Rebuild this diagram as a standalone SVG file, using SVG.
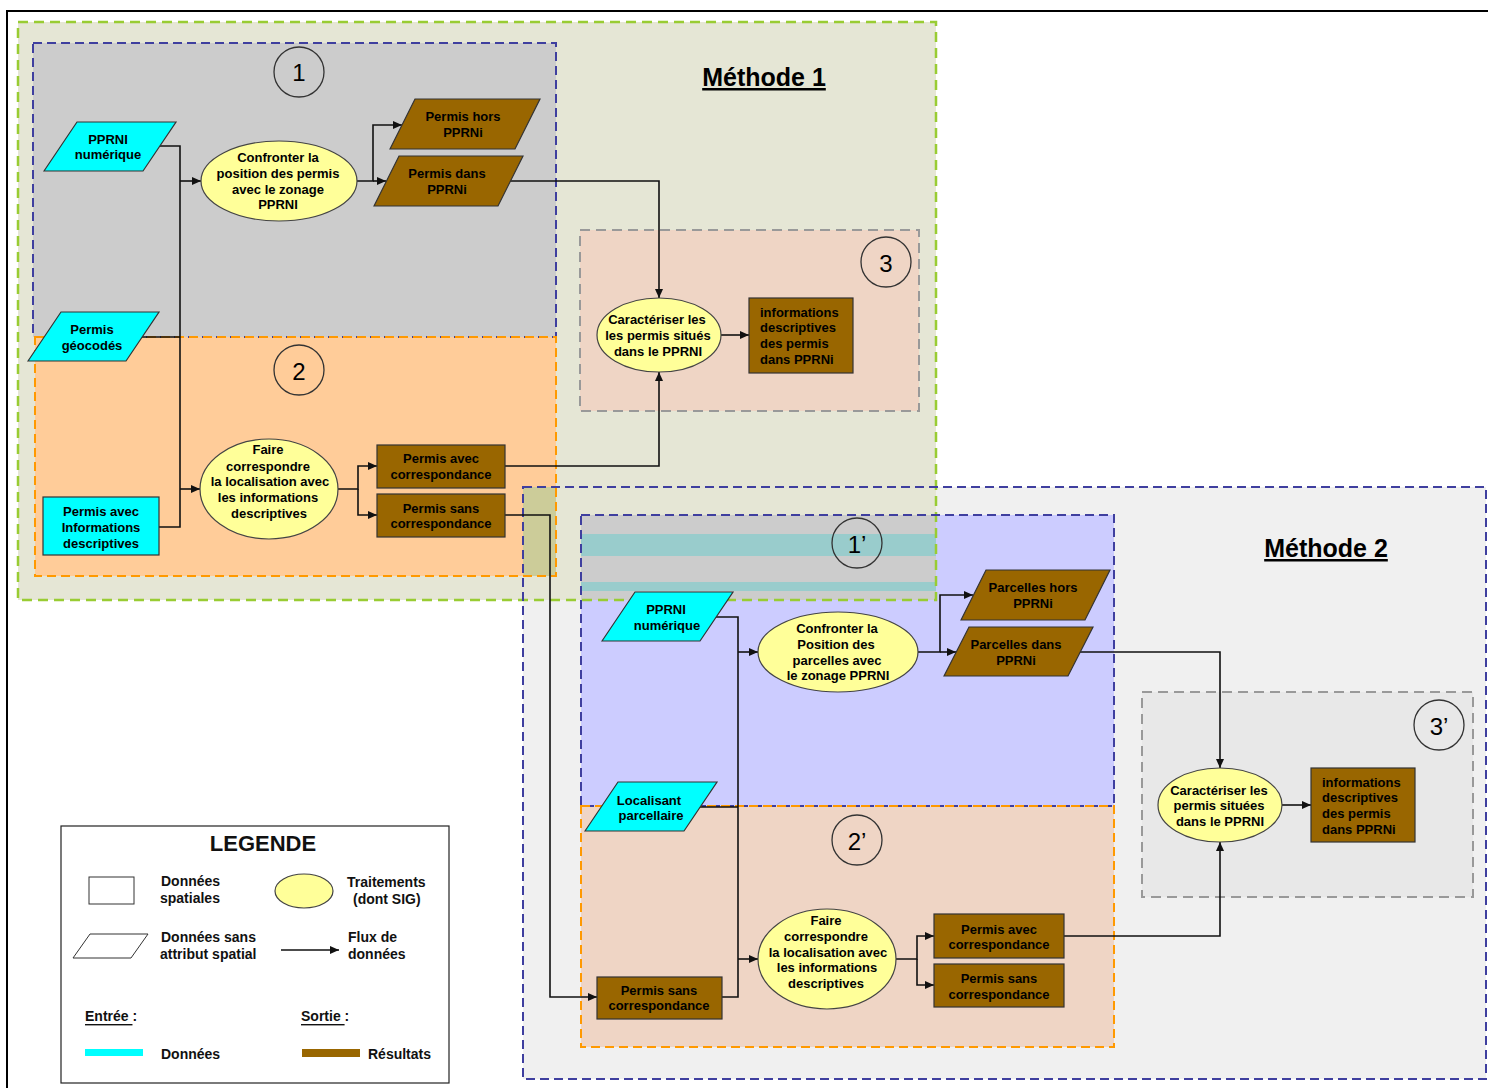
<svg xmlns="http://www.w3.org/2000/svg" width="1488" height="1088" viewBox="0 0 1488 1088">
<style>
.t{font-family:"Liberation Sans",Arial,sans-serif;font-weight:bold;font-size:13px;fill:#000;text-anchor:middle;dominant-baseline:central}
.tl{text-anchor:start}
.lg{font-family:"Liberation Sans",Arial,sans-serif;font-weight:bold;font-size:14px;fill:#111;dominant-baseline:central}
.num{font-family:"Liberation Sans",Arial,sans-serif;font-size:24px;fill:#000;text-anchor:middle;dominant-baseline:central}
.title{font-family:"Liberation Sans",Arial,sans-serif;font-weight:bold;font-size:25px;fill:#000;text-anchor:middle;text-decoration:underline}
.cyan{fill:#00ffff;stroke:#333;stroke-width:1.2}
.brown{fill:#996600;stroke:#333;stroke-width:1.2}
.proc{fill:#ffff99;stroke:#444;stroke-width:1.2}
.circ{fill:none;stroke:#333;stroke-width:1.3}
.m1{fill:none;stroke:#99cc33;stroke-width:2.5;stroke-dasharray:10 6}
.bl{fill:none;stroke:#3f3f9f;stroke-width:2;stroke-dasharray:9 5}
.or{fill:none;stroke:#ff9900;stroke-width:2;stroke-dasharray:9 5}
.gr{fill:none;stroke:#999;stroke-width:2;stroke-dasharray:10 6}
.c{fill:none;stroke:#111;stroke-width:1.6}
</style>
<defs>
<marker id="ah" markerUnits="userSpaceOnUse" markerWidth="9" markerHeight="8" refX="9" refY="4" orient="auto">
<path d="M0,0 L9,4 L0,8 z" fill="#111"/>
</marker>
</defs>
<rect width="1488" height="1088" fill="#fff"/>
<g id="frame">
<path d="M7,1088 V11 H1488" fill="none" stroke="#000" stroke-width="2"/>
</g>
<g id="areas">
<rect x="523" y="487" width="963" height="592" fill="#f0f0f0"/>
<rect x="18" y="22" width="918" height="578" fill="#e5e6d5"/>
<rect x="33" y="43" width="523" height="294" fill="#cccccc"/>
<rect x="35" y="337" width="521" height="239" fill="#ffcc99"/>
<rect x="580" y="230" width="339" height="181" fill="#efd5c5"/>
<rect x="523" y="487" width="33" height="89" fill="#cccc99"/>
<rect x="581" y="515" width="533" height="291" fill="#ccccff"/>
<rect x="581" y="515" width="355" height="85" fill="#cccccc"/>
<rect x="581" y="534" width="355" height="22" fill="#99cccc"/>
<rect x="581" y="582" width="355" height="9" fill="#99cccc"/>
<rect x="581" y="806" width="533" height="241" fill="#efd5c5"/>
<rect x="1142" y="692" width="331" height="205" fill="#e8e8e8"/>
<rect x="18" y="22" width="918" height="578" class="m1"/>
<rect x="33" y="43" width="523" height="294" class="bl"/>
<rect x="35" y="337" width="521" height="239" class="or"/>
<rect x="580" y="230" width="339" height="181" class="gr"/>
<rect x="523" y="487" width="963" height="592" class="bl"/>
<rect x="581" y="515" width="533" height="291" class="bl"/>
<rect x="581" y="806" width="533" height="241" class="or"/>
<rect x="1142" y="692" width="331" height="205" class="gr"/>
<text class="title" x="764" y="86">Méthode 1</text>
<text class="title" x="1326" y="557">Méthode 2</text>
</g>
<g id="steps">
<circle class="circ" cx="299" cy="72" r="25"/><text class="num" x="299" y="72">1</text>
<circle class="circ" cx="299" cy="370" r="25"/><text class="num" x="299" y="371">2</text>
<circle class="circ" cx="886" cy="262" r="25"/><text class="num" x="886" y="263">3</text>
<circle class="circ" cx="857" cy="543" r="25"/><text class="num" x="857" y="544">1’</text>
<circle class="circ" cx="857" cy="840" r="25"/><text class="num" x="857" y="841">2’</text>
<circle class="circ" cx="1439" cy="725" r="25"/><text class="num" x="1439" y="726">3’</text>
</g>
<g id="connectors">
<path class="c" d="M150,146 H180 V527 H155"/>
<path class="c" d="M135,337 H180"/>
<path class="c" d="M180,181 H201" marker-end="url(#ah)"/>
<path class="c" d="M180,489 H200" marker-end="url(#ah)"/>
<path class="c" d="M357,181 H373 V125 H402" marker-end="url(#ah)"/>
<path class="c" d="M373,181 H386" marker-end="url(#ah)"/>
<path class="c" d="M505,181 H659 V298" marker-end="url(#ah)"/>
<path class="c" d="M338,489 H358 V466 H377" marker-end="url(#ah)"/>
<path class="c" d="M358,489 V515 H377" marker-end="url(#ah)"/>
<path class="c" d="M505,466 H659 V372" marker-end="url(#ah)"/>
<path class="c" d="M721,335 H749" marker-end="url(#ah)"/>
<path class="c" d="M505,515 H550 V997 H597" marker-end="url(#ah)"/>
<path class="c" d="M710,617 H738 V997 H722"/>
<path class="c" d="M695,807 H738"/>
<path class="c" d="M738,652 H758" marker-end="url(#ah)"/>
<path class="c" d="M738,959 H758" marker-end="url(#ah)"/>
<path class="c" d="M918,652 H940 V595 H973" marker-end="url(#ah)"/>
<path class="c" d="M940,652 H956" marker-end="url(#ah)"/>
<path class="c" d="M1075,652 H1220 V768" marker-end="url(#ah)"/>
<path class="c" d="M896,959 H917 V936 H934" marker-end="url(#ah)"/>
<path class="c" d="M917,959 V985 H934" marker-end="url(#ah)"/>
<path class="c" d="M1064,936 H1220 V842" marker-end="url(#ah)"/>
<path class="c" d="M1282,805 H1311" marker-end="url(#ah)"/>
</g>
<g id="n_pprni1"><polygon class="cyan" points="44,171 77,122 176,122 143,171"/><text class="t" x="108" y="139">PPRNI</text><text class="t" x="108" y="154">numérique</text></g>
<g id="n_geocodes"><polygon class="cyan" points="28,361 61,312 159,312 126,361"/><text class="t" x="92" y="329">Permis</text><text class="t" x="92" y="345">géocodés</text></g>
<g id="n_infos1"><rect class="cyan" x="43" y="497" width="116" height="58"/><text class="t" x="101" y="511">Permis avec</text><text class="t" x="101" y="527">Informations</text><text class="t" x="101" y="543">descriptives</text></g>
<g id="p_confronter1"><ellipse class="proc" cx="279" cy="181" rx="78" ry="40"/><text class="t" x="278" y="157">Confronter la</text><text class="t" x="278" y="173">position des permis</text><text class="t" x="278" y="189">avec le zonage</text><text class="t" x="278" y="204">PPRNI</text></g>
<g id="r_hors1"><polygon class="brown" points="390,149 415,99 540,99 515,149"/><text class="t" x="463" y="116">Permis hors</text><text class="t" x="463" y="132">PPRNi</text></g>
<g id="r_dans1"><polygon class="brown" points="374,206 399,156 523,156 498,206"/><text class="t" x="447" y="173">Permis dans</text><text class="t" x="447" y="189">PPRNi</text></g>
<g id="p_faire1"><ellipse class="proc" cx="269" cy="489" rx="69" ry="50"/><text class="t" x="268" y="449">Faire</text><text class="t" x="268" y="466">correspondre</text><text class="t" x="270" y="481">la localisation avec</text><text class="t" x="268" y="497">les informations</text><text class="t" x="269" y="513">descriptives</text></g>
<g id="r_avec1"><rect class="brown" x="377" y="445" width="128" height="43"/><text class="t" x="441" y="458">Permis avec</text><text class="t" x="441" y="474">correspondance</text></g>
<g id="r_sans1"><rect class="brown" x="377" y="494" width="128" height="43"/><text class="t" x="441" y="508">Permis sans</text><text class="t" x="441" y="523">correspondance</text></g>
<g id="p_caract1"><ellipse class="proc" cx="659" cy="335" rx="62" ry="37"/><text class="t" x="657" y="319">Caractériser les</text><text class="t" x="658" y="335">les permis situés</text><text class="t" x="658" y="351">dans le PPRNI</text></g>
<g id="r_info1"><rect class="brown" x="749" y="298" width="104" height="75"/><text class="t tl" x="760" y="312">informations</text><text class="t tl" x="760" y="327">descriptives</text><text class="t tl" x="760" y="343">des permis</text><text class="t tl" x="760" y="359">dans PPRNi</text></g>
<g id="n_pprni2"><polygon class="cyan" points="602,641 635,592 733,592 700,641"/><text class="t" x="666" y="609">PPRNI</text><text class="t" x="667" y="625">numérique</text></g>
<g id="n_localisant"><polygon class="cyan" points="585,831 618,782 717,782 684,831"/><text class="t" x="649" y="800">Localisant</text><text class="t" x="651" y="815">parcellaire</text></g>
<g id="n_sans2"><rect class="brown" x="597" y="977" width="125" height="42"/><text class="t" x="659" y="990">Permis sans</text><text class="t" x="659" y="1005">correspondance</text></g>
<g id="p_confronter2"><ellipse class="proc" cx="838" cy="652" rx="80" ry="40"/><text class="t" x="837" y="628">Confronter la</text><text class="t" x="836" y="644">Position des</text><text class="t" x="837" y="660">parcelles avec</text><text class="t" x="838" y="675">le zonage PPRNI</text></g>
<g id="r_hors2"><polygon class="brown" points="961,620 986,570 1110,570 1085,620"/><text class="t" x="1033" y="587">Parcelles hors</text><text class="t" x="1033" y="603">PPRNi</text></g>
<g id="r_dans2"><polygon class="brown" points="944,676 969,627 1093,627 1068,676"/><text class="t" x="1016" y="644">Parcelles dans</text><text class="t" x="1016" y="660">PPRNi</text></g>
<g id="p_faire2"><ellipse class="proc" cx="827" cy="959" rx="69" ry="50"/><text class="t" x="826" y="920">Faire</text><text class="t" x="826" y="936">correspondre</text><text class="t" x="828" y="952">la localisation avec</text><text class="t" x="827" y="967">les informations</text><text class="t" x="826" y="983">descriptives</text></g>
<g id="r_avec2"><rect class="brown" x="934" y="914" width="130" height="44"/><text class="t" x="999" y="929">Permis avec</text><text class="t" x="999" y="944">correspondance</text></g>
<g id="r_sans2"><rect class="brown" x="934" y="964" width="130" height="43"/><text class="t" x="999" y="978">Permis sans</text><text class="t" x="999" y="994">correspondance</text></g>
<g id="p_caract2"><ellipse class="proc" cx="1220" cy="805" rx="62" ry="37"/><text class="t" x="1219" y="790">Caractériser les</text><text class="t" x="1219" y="805">permis situées</text><text class="t" x="1220" y="821">dans le PPRNI</text></g>
<g id="r_info2"><rect class="brown" x="1311" y="768" width="104" height="74"/><text class="t tl" x="1322" y="782">informations</text><text class="t tl" x="1322" y="797">descriptives</text><text class="t tl" x="1322" y="813">des permis</text><text class="t tl" x="1322" y="829">dans PPRNi</text></g>
<g id="legend">
<rect x="61" y="826" width="388" height="257" fill="#fff" stroke="#222" stroke-width="1.2"/>
<text class="lg" x="263" y="843" style="font-size:22px;text-anchor:middle">LEGENDE</text>
<rect x="89" y="877" width="45" height="27" fill="#fff" stroke="#333" stroke-width="1"/>
<text class="lg" x="161" y="881">Données</text><text class="lg" x="160" y="898">spatiales</text>
<ellipse cx="304" cy="891" rx="29" ry="17" class="proc"/>
<text class="lg" x="347" y="882">Traitements</text><text class="lg" x="353" y="899">(dont SIG)</text>
<polygon points="73,958 90,934 148,934 131,958" fill="#fff" stroke="#333" stroke-width="1"/>
<text class="lg" x="161" y="937">Données sans</text><text class="lg" x="160" y="954">attribut spatial</text>
<path d="M281,950 H339" stroke="#111" stroke-width="1.3" marker-end="url(#ah)"/>
<text class="lg" x="348" y="937">Flux de</text><text class="lg" x="348" y="954">données</text>
<text class="lg" x="85" y="1016"><tspan text-decoration="underline">Entrée </tspan>:</text>
<text class="lg" x="301" y="1016"><tspan text-decoration="underline">Sortie </tspan>:</text>
<rect x="85" y="1049" width="58" height="7" fill="#00ffff"/>
<text class="lg" x="161" y="1054">Données</text>
<rect x="302" y="1049" width="58" height="8" fill="#996600"/>
<text class="lg" x="368" y="1054">Résultats</text>
</g>
</svg>
